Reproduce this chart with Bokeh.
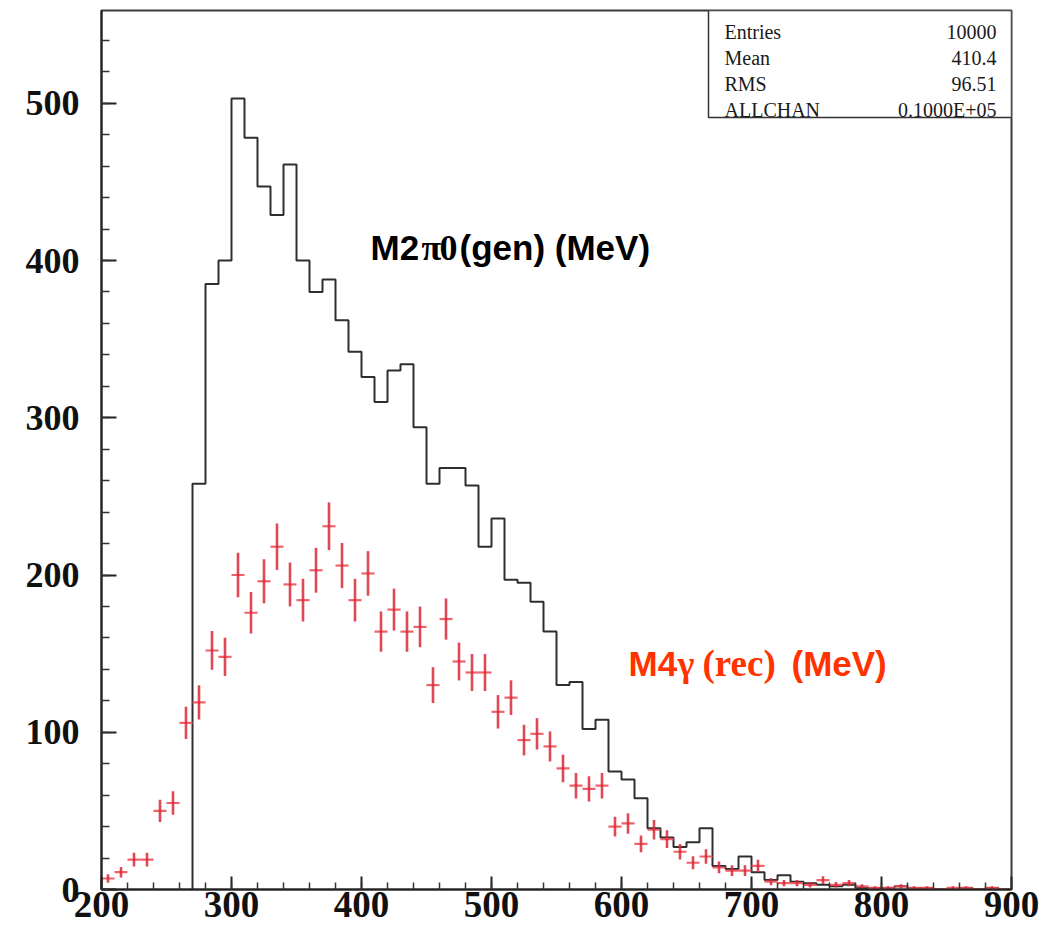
import numpy as np
from bokeh.plotting import figure
from bokeh.models import Range1d, SingleIntervalTicker, ColumnDataSource, BoxAnnotation, Label
from bokeh.embed import file_html
from bokeh.resources import INLINE

# ---- data ----
# generated M(2pi0) histogram: 10 MeV bins, left edges
gen_edges = list(range(270, 900, 10))
gen_counts = [258, 385, 400, 503, 478, 447, 429, 461, 400, 380,
              388, 362, 342, 326, 310, 330, 334, 294, 258, 268,
              268, 257, 218, 236, 197, 195, 183, 164, 130, 132,
              102, 108, 75, 70, 58, 39, 33, 27, 30, 39,
              15, 13, 21, 11, 6, 9, 5, 4, 3, 2,
              3, 1, 1, 1, 2, 1, 1, 0, 0, 1,
              0, 1, 0]
# reconstructed M(4gamma): bin centers and counts
rec_centers = list(range(205, 900, 10))
rec_counts = [7, 11, 19, 19, 50, 55, 106, 119, 152, 148,
              200, 176, 196, 218, 194, 184, 203, 231, 206, 184,
              201, 164, 178, 164, 167, 130, 172, 145, 138, 138,
              113, 122, 95, 99, 91, 77, 66, 64, 66, 40,
              42, 29, 38, 32, 24, 17, 21, 14, 12, 12,
              15, 5, 4, 4, 3, 6, 3, 4, 2, 1,
              1, 2, 1, 1, 0, 1, 1, 0, 1, 0]
bin_width = 10
stats_names = ["Entries", "Mean", "RMS", "ALLCHAN"]
stats_values = ["10000", "410.4", "96.51", "0.1000E+05"]
x_ticks_interval = 100
y_ticks_interval = 100

# ---- figure ----
W, H = 1050, 931
FL, FR, FT, FB = 101, 1011, 10, 889
X0, X1 = 200, 900
Y0, Y1 = 0, 559

def dx(px):
    return X0 + (px - FL) * (X1 - X0) / (FR - FL)

def dy(py):
    return Y0 + (FB - py) * (Y1 - Y0) / (FB - FT)

p = figure(width=W, height=H, x_range=Range1d(X0, X1), y_range=Range1d(Y0, Y1),
           output_backend="svg", toolbar_location=None,
           min_border_left=FL, min_border_right=W - FR,
           min_border_top=FT, min_border_bottom=H - FB)
p.grid.visible = False
p.background_fill_color = "white"
p.border_fill_color = "white"
p.outline_line_color = "#3a3a3a"
p.outline_line_width = 2

for ax, interval, tin, mtin, size in ((p.xaxis[0], x_ticks_interval, 13, 7, "37px"),
                                      (p.yaxis[0], y_ticks_interval, 15, 8, "36px")):
    ax.ticker = SingleIntervalTicker(interval=interval, num_minor_ticks=5)
    ax.major_tick_in = tin
    ax.major_tick_out = 0
    ax.minor_tick_in = mtin
    ax.minor_tick_out = 0
    ax.axis_line_color = "#222222"
    ax.axis_line_width = 2
    ax.major_tick_line_color = "#222222"
    ax.major_tick_line_width = 2
    ax.minor_tick_line_color = "#333333"
    ax.minor_tick_line_width = 1.5
    ax.major_label_text_font = "Liberation Serif"
    ax.major_label_text_font_style = "bold"
    ax.major_label_text_font_size = size
    ax.major_label_text_color = "#111111"
p.xaxis.major_label_standoff = 2
p.yaxis.major_label_standoff = 22

# ---- generated histogram (step line) ----
sx = [gen_edges[0]] + gen_edges + [gen_edges[-1] + bin_width]
sy = [0] + gen_counts + [gen_counts[-1]]
p.step(sx, sy, mode="after", line_color="#2e2e2e", line_width=2)

# ---- reconstructed points with error bars ----
rc = np.array(rec_centers, dtype=float)
rv = np.array(rec_counts, dtype=float)
err = np.sqrt(rv)
src = ColumnDataSource(dict(x=rc, y=rv, y0=rv - err, y1=rv + err,
                            xl=rc - bin_width / 2, xr=rc + bin_width / 2))
p.segment(x0="xl", y0="y", x1="xr", y1="y", source=src,
          line_color="#f0505a", line_width=2.2, line_alpha=0.9)
p.segment(x0="x", y0="y0", x1="x", y1="y1", source=src,
          line_color="#d8283a", line_width=2.6, line_alpha=0.85)

# ---- stats box ----
p.add_layout(BoxAnnotation(left=dx(708), right=X1, bottom=dy(117), top=Y1,
                           fill_color="white", fill_alpha=1.0,
                           line_color="#333333", line_width=1.5, line_alpha=1.0))
row_base = [31.5, 57, 83, 109]
for name, val, yb in zip(stats_names, stats_values, row_base):
    p.add_layout(Label(x=dx(724), y=dy(yb), text=name, text_align="left",
                       text_baseline="alphabetic", text_font="Liberation Serif",
                       text_font_size="20px", text_color="#1a1a1a"))
    p.add_layout(Label(x=dx(996), y=dy(yb), text=val, text_align="right",
                       text_baseline="alphabetic", text_font="Liberation Serif",
                       text_font_size="20px", text_color="#1a1a1a"))

# ---- annotations ----
def lab(px, pyb, text, font, color, size="34px"):
    p.add_layout(Label(x=dx(px), y=dy(pyb), text=text, text_align="left",
                       text_baseline="alphabetic", text_font=font,
                       text_font_style="bold", text_font_size=size,
                       text_color=color))

lab(370, 247, "M2", "Liberation Sans", "#000000", "35px")
lab(421, 247, "\u03c0", "Liberation Serif", "#000000", "36px")
lab(439, 247, "0", "Liberation Serif", "#000000", "36px")
lab(459, 247, "(gen) (MeV)", "Liberation Sans", "#000000", "35px")

lab(628, 663, "M4", "Liberation Sans", "#ff3300", "35px")
lab(677, 663, "\u03b3", "Liberation Serif", "#ff3300", "36px")
lab(702, 663, "(rec)", "Liberation Serif", "#ff3300", "37px")
lab(791, 663, "(MeV)", "Liberation Sans", "#ff3300", "35px")

open("out.html", "w").write(file_html(p, INLINE))
